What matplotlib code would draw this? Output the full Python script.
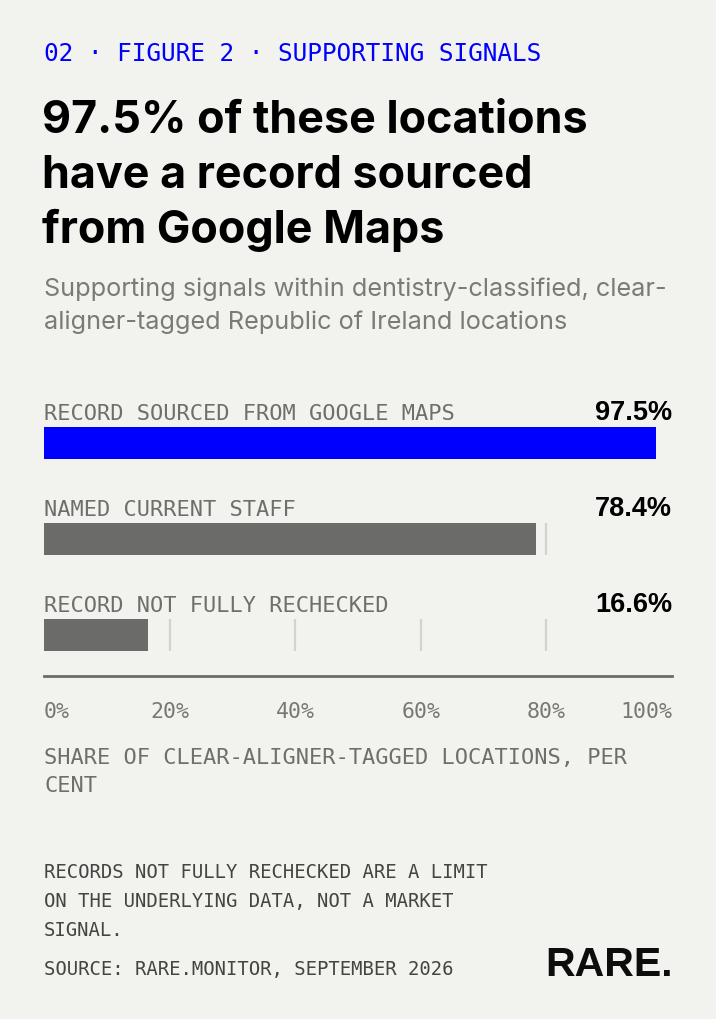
import matplotlib
matplotlib.use("Agg")
import matplotlib.pyplot as plt

W, H = 716, 1020
BG = "#f2f2ee"
BLUE = "#0000ff"
GREY_BAR = "#6b6b69"
GRID = "#d2d2ce"
MONO = "DejaVu Sans Mono"

# data
categories = ["RECORD SOURCED FROM GOOGLE MAPS", "NAMED CURRENT STAFF", "RECORD NOT FULLY RECHECKED"]
values = [97.5, 78.4, 16.6]
bar_colors = [BLUE, GREY_BAR, GREY_BAR]
ticks = [0, 20, 40, 60, 80, 100]
tick_labels = ["0%", "20%", "40%", "60%", "80%", "100%"]
grid_lines = [20, 40, 60, 80]

kicker = "02 · FIGURE 2 · SUPPORTING SIGNALS"
title_lines = ["97.5% of these locations", "have a record sourced", "from Google Maps"]
subtitle_lines = ["Supporting signals within dentistry-classified, clear-",
                  "aligner-tagged Republic of Ireland locations"]
axis_title = ["SHARE OF CLEAR-ALIGNER-TAGGED LOCATIONS, PER", "CENT"]
note_lines = ["RECORDS NOT FULLY RECHECKED ARE A LIMIT",
              "ON THE UNDERLYING DATA, NOT A MARKET",
              "SIGNAL."]
source = "SOURCE: RARE.MONITOR, SEPTEMBER 2026"


def fx(x):
    return x / W


def fy(y):
    return 1 - y / H


fig = plt.figure(figsize=(W / 100, H / 100), dpi=100)
fig.patch.set_facecolor(BG)

# header text
fig.text(fx(44), fy(61), kicker, family=MONO, fontsize=17.6, color=BLUE, va="baseline")
for i, line in enumerate(title_lines):
    fig.text(fx(42), fy(133 + 55 * i), line, family=["Inter", "DejaVu Sans"], fontweight="bold",
             fontsize=32.3, color="#000000", va="baseline")
for i, line in enumerate(subtitle_lines):
    fig.text(fx(44), fy(296 + 33 * i), line, family=["Inter", "DejaVu Sans"], fontsize=18.2,
             color="#7a7a78", va="baseline")

# bar axes: rows 96px apart, bar centre of first row at y=444, axis line at y=677
row = 96.0
top_px, bot_px = 380, 677
ax = fig.add_axes([fx(44), fy(bot_px), fx(672) - fx(44), (bot_px - top_px) / H])
ax.set_facecolor("none")
ax.set_xlim(0, 100)
ax.set_ylim((bot_px - 444) / row, (top_px - 444) / row)
bar_h = 32 / row

for i in range(len(categories)):
    ax.vlines(grid_lines, i - bar_h / 2, i + bar_h / 2, color=GRID, lw=1.6, zorder=1)
ax.barh(range(len(categories)), values, height=bar_h, color=bar_colors, zorder=2)

for i, (cat, val) in enumerate(zip(categories, values)):
    ax.text(0, i - 24 / row, cat, family=MONO, fontsize=15.8, color="#6e6e6c", va="baseline")
    ax.text(100, i - 24 / row, f"{val:.1f}%", family=["Liberation Sans"],
            fontweight="bold", fontsize=19.5, color="#000000", va="baseline", ha="right")

for side in ["top", "right", "left"]:
    ax.spines[side].set_visible(False)
ax.spines["bottom"].set_color("#6b6b69")
ax.spines["bottom"].set_linewidth(2)
ax.set_yticks([])
ax.set_xticks(ticks)
ax.set_xticklabels(tick_labels, family=MONO, fontsize=15.5, color="#777775")
ax.tick_params(axis="x", length=0, pad=18)
ax.get_xticklabels()[0].set_ha("left")
ax.get_xticklabels()[-1].set_ha("right")

for i, line in enumerate(axis_title):
    fig.text(fx(44), fy(764 + 28 * i), line, family=MONO, fontsize=15.8, color="#6e6e6c", va="baseline")

# footer
for i, line in enumerate(note_lines):
    fig.text(fx(44), fy(878 + 29 * i), line, family=MONO, fontsize=13.6, color="#444442", va="baseline")
fig.text(fx(44), fy(975), source, family=MONO, fontsize=13.6, color="#444442", va="baseline")
fig.text(fx(673), fy(976), "RARE.", family=["Liberation Sans"], fontweight="bold",
         fontsize=29.5, color="#0d0d0d", va="baseline", ha="right")

fig.savefig("out.png", dpi=100, facecolor=BG)
